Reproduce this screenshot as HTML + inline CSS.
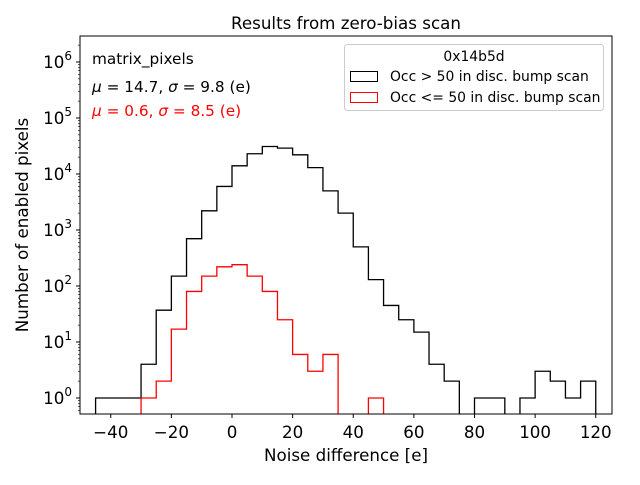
<!DOCTYPE html>
<html><head><meta charset="utf-8"><style>
body{margin:0;background:#fff}
svg{font-family:"DejaVu Sans","Liberation Sans",sans-serif}
</style></head><body>
<svg id="c" width="640" height="480" xmlns="http://www.w3.org/2000/svg">
<defs><clipPath id="cl"><rect x="80" y="36" width="532" height="378"/></clipPath></defs>
<text x="346" y="29" font-size="16.7" text-anchor="middle">Results from zero-bias scan</text>
<g id="series" clip-path="url(#cl)"></g>
<rect x="80" y="36" width="532" height="378" fill="none" stroke="#000" stroke-width="1"/>
<g id="axes"></g>
<text x="346" y="461" font-size="16.7" text-anchor="middle">Noise difference [e]</text>
<text transform="translate(28,225) rotate(-90)" font-size="16.7" text-anchor="middle">Number of enabled pixels</text>
<text x="92" y="64" font-size="15.3">matrix_pixels</text>
<text x="92" y="92" font-size="15.3"><tspan font-style="italic">μ</tspan> = 14.7, <tspan font-style="italic">σ</tspan> = 9.8 (e)</text>
<text x="92" y="116" font-size="15.3" fill="#ff0000"><tspan font-style="italic">μ</tspan> = 0.6, <tspan font-style="italic">σ</tspan> = 8.5 (e)</text>
<g>
<rect x="344.5" y="44.5" width="259" height="66" rx="3" fill="#fff" fill-opacity="0.8" stroke="#ccc"/>
<text x="474" y="61" font-size="13.9" text-anchor="middle">0x14b5d</text>
<rect x="350.5" y="71.5" width="27" height="10" fill="none" stroke="#000"/>
<text x="390" y="81" font-size="13.9">Occ &gt; 50 in disc. bump scan</text>
<rect x="350.5" y="92.5" width="27" height="10" fill="none" stroke="#ff0000"/>
<text x="390" y="102" font-size="13.9">Occ &lt;= 50 in disc. bump scan</text>
</g>
</svg>
<script>
const binStarts=[-45,-40,-35,-30,-25,-20,-15,-10,-5,0,5,10,15,20,25,30,35,40,45,50,55,60,65,70,75,80,85,90,95,100,105,110,115];
const blackCounts=[1,1,1,4,37,150,700,2200,6000,14000,23000,31000,29000,22000,13000,5000,2000,500,130,45,25,15,4,2,0,1,1,0,1,3,2,1,2];
const redCounts=[0,0,0,1,2,17,80,150,220,240,150,80,25,6,3,6,0,0,1,0,0,0,0,0,0,0,0,0,0,0,0,0,0];
const xTicks=[-40,-20,0,20,40,60,80,100,120];
const yTickExps=[0,1,2,3,4,5,6];
const binWidth=5;
const NS="http://www.w3.org/2000/svg";
const X=v=>232+(v)*3.03125;
const Y=v=>v<=0?430:398-56*Math.log10(v);
function drawStep(counts,color,name){
  let d="M"+X(binStarts[0])+","+430;
  counts.forEach((c,i)=>{d+=" L"+X(binStarts[i])+","+Y(c)+" L"+X(binStarts[i]+binWidth)+","+Y(c);});
  d+=" L"+X(binStarts[binStarts.length-1]+binWidth)+",430";
  const p=document.createElementNS(NS,"path");
  p.setAttribute("d",d);p.setAttribute("fill","none");p.setAttribute("stroke",color);p.setAttribute("stroke-width","1.3");
  
  
  document.getElementById("series").appendChild(p);
}
drawStep(blackCounts,"#000","black-histogram");
drawStep(redCounts,"#ff0000","red-histogram");
const ax=document.getElementById("axes");
xTicks.forEach(t=>{
  const l=document.createElementNS(NS,"line");
  l.setAttribute("x1",X(t));l.setAttribute("x2",X(t));l.setAttribute("y1",414);l.setAttribute("y2",418);l.setAttribute("stroke","#000");
  
  
  ax.appendChild(l);
  const tx=document.createElementNS(NS,"text");
  tx.setAttribute("x",X(t));tx.setAttribute("y",438);tx.setAttribute("font-size","16.7");tx.setAttribute("text-anchor","middle");
  tx.textContent=(t<0?"−"+(-t):t);
  
  
  ax.appendChild(tx);
});
yTickExps.forEach(e=>{
  const y=Y(Math.pow(10,e));
  const l=document.createElementNS(NS,"line");
  l.setAttribute("x1",76);l.setAttribute("x2",80);l.setAttribute("y1",y);l.setAttribute("y2",y);l.setAttribute("stroke","#000");
  
  
  ax.appendChild(l);
  const tx=document.createElementNS(NS,"text");
  tx.setAttribute("x",72);tx.setAttribute("y",y+6);tx.setAttribute("font-size","16.7");tx.setAttribute("text-anchor","end");
  tx.innerHTML="10<tspan dy='-8' font-size='12'>"+e+"</tspan>";
  
  
  ax.appendChild(tx);
  for(let m=2;m<10;m++){
    const ym=Y(m*Math.pow(10,e));
    if(ym<36)continue;
    const n=document.createElementNS(NS,"line");
    n.setAttribute("x1",78);n.setAttribute("x2",80);n.setAttribute("y1",ym);n.setAttribute("y2",ym);n.setAttribute("stroke","#000");n.setAttribute("stroke-width","0.6");
    
    
    ax.appendChild(n);
  }
});
[-1].forEach(e=>{for(let m=5;m<10;m++){const ym=Y(m*Math.pow(10,e));if(ym>414)continue;
 const n=document.createElementNS(NS,"line");n.setAttribute("x1",78);n.setAttribute("x2",80);n.setAttribute("y1",ym);n.setAttribute("y2",ym);n.setAttribute("stroke","#000");n.setAttribute("stroke-width","0.6");
 
 
 ax.appendChild(n);}});
</script>
</body></html>
